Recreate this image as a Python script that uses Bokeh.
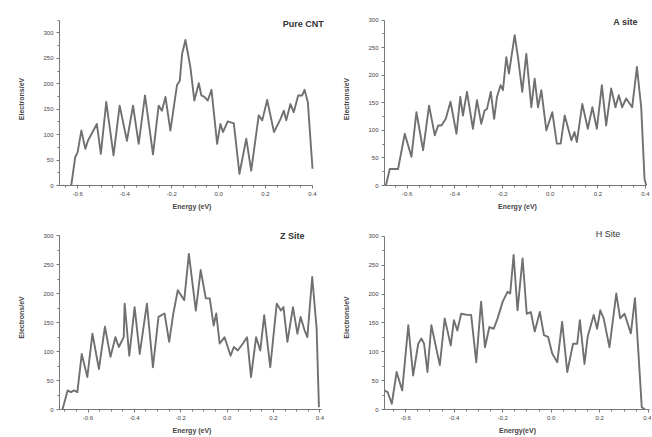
from bokeh.plotting import figure
from bokeh.layouts import gridplot
from bokeh.models import Range1d, Label, FixedTicker, PrintfTickFormatter
from bokeh.embed import file_html
from bokeh.resources import INLINE

# ---- data ----
pure_x = [-0.627, -0.610, -0.600, -0.584, -0.567, -0.556, -0.518, -0.501, -0.478, -0.447,
          -0.421, -0.390, -0.364, -0.340, -0.313, -0.279, -0.255, -0.241, -0.226, -0.205,
          -0.177, -0.165, -0.155, -0.141, -0.120, -0.103, -0.084, -0.073, -0.060, -0.046,
          -0.030, -0.006, 0.008, 0.019, 0.039, 0.065, 0.089, 0.118, 0.139, 0.171,
          0.186, 0.207, 0.236, 0.264, 0.278, 0.288, 0.306, 0.320, 0.339, 0.356,
          0.366, 0.380, 0.400]
pure_y = [0, 56, 65, 108, 72, 88, 121, 62, 164, 59,
          157, 88, 157, 82, 177, 61, 157, 147, 174, 108,
          197, 206, 259, 286, 233, 167, 201, 177, 174, 167,
          188, 82, 121, 105, 126, 122, 23, 92, 29, 138,
          128, 168, 105, 131, 147, 128, 160, 144, 177, 177,
          188, 164, 33]

a_x = [-0.689, -0.673, -0.659, -0.638, -0.610, -0.582, -0.561, -0.533, -0.508, -0.484,
       -0.470, -0.456, -0.438, -0.418, -0.393, -0.377, -0.366, -0.349, -0.324, -0.307,
       -0.289, -0.275, -0.265, -0.249, -0.235, -0.223, -0.208, -0.198, -0.184, -0.173,
       -0.149, -0.135, -0.117, -0.100, -0.079, -0.065, -0.051, -0.037, -0.016, 0.009,
       0.028, 0.044, 0.061, 0.089, 0.102, 0.112, 0.135, 0.158, 0.177, 0.196,
       0.217, 0.235, 0.256, 0.274, 0.288, 0.302, 0.319, 0.344, 0.364, 0.382,
       0.396, 0.403]
a_y = [0, 30, 30, 30, 94, 52, 133, 64, 145, 91,
       109, 109, 121, 152, 94, 161, 127, 170, 103, 155,
       112, 136, 139, 170, 121, 161, 182, 173, 233, 203,
       273, 233, 170, 239, 142, 194, 142, 173, 100, 133,
       76, 76, 127, 82, 97, 79, 148, 103, 142, 103,
       182, 109, 176, 142, 164, 142, 158, 142, 215, 142,
       12, 0]

z_x = [-0.710, -0.688, -0.674, -0.660, -0.646, -0.627, -0.603, -0.581, -0.553, -0.527,
       -0.503, -0.482, -0.467, -0.446, -0.442, -0.422, -0.399, -0.377, -0.346, -0.320,
       -0.296, -0.270, -0.250, -0.232, -0.213, -0.185, -0.165, -0.135, -0.114, -0.092,
       -0.075, -0.058, -0.047, -0.032, -0.011, 0.015, 0.029, 0.046, 0.068, 0.086,
       0.103, 0.125, 0.143, 0.160, 0.186, 0.214, 0.232, 0.243, 0.260, 0.284,
       0.303, 0.317, 0.334, 0.346, 0.367, 0.386, 0.396]
z_y = [0, 33, 30, 33, 30, 96, 56, 131, 70, 143,
       91, 125, 108, 125, 183, 93, 177, 96, 183, 73,
       160, 166, 117, 166, 206, 189, 269, 171, 241, 192,
       192, 145, 166, 114, 125, 93, 108, 102, 114, 125,
       56, 125, 102, 163, 73, 183, 171, 177, 117, 177,
       131, 160, 137, 125, 229, 140, 4]

h_x = [-0.687, -0.674, -0.657, -0.637, -0.614, -0.589, -0.569, -0.548, -0.535, -0.524,
       -0.510, -0.494, -0.459, -0.439, -0.414, -0.401, -0.387, -0.371, -0.346, -0.330,
       -0.309, -0.289, -0.273, -0.255, -0.237, -0.221, -0.200, -0.180, -0.169, -0.155,
       -0.139, -0.118, -0.101, -0.084, -0.068, -0.047, -0.030, -0.013, 0.004, 0.025,
       0.045, 0.066, 0.090, 0.107, 0.118, 0.137, 0.150, 0.175, 0.189, 0.202,
       0.216, 0.240, 0.268, 0.284, 0.302, 0.328, 0.345, 0.359, 0.373, 0.386]
h_y = [33, 30, 10, 65, 33, 146, 59, 114, 123, 114,
       65, 146, 77, 158, 111, 155, 137, 166, 164, 164,
       82, 187, 108, 143, 140, 158, 187, 204, 201, 268,
       172, 262, 166, 169, 135, 169, 129, 126, 97, 82,
       152, 65, 114, 114, 155, 79, 126, 164, 140, 172,
       158, 108, 201, 158, 166, 132, 193, 100, 4, 0]

titles = ["Pure CNT", "A site", "Z Site", "H Site"]
x_label = ["Energy (eV)", "Energy (eV)", "Energy (eV)", "Energy(eV)"]
y_label = "Electrons/eV"
y_ticks = [0, 50, 100, 150, 200, 250, 300]
x_ticks = [-0.6, -0.4, -0.2, 0.0, 0.2, 0.4]

FONT = "Liberation Sans"
LINE = "#707070"
AX = "#777777"


def make(xs, ys, title, xlab, xr, xb, yr, yb, w, h, borders, title_pos, bold=True):
    left, right, top, bottom = borders
    p = figure(width=w, height=h, output_backend="svg", toolbar_location=None,
               x_range=Range1d(*xr), y_range=Range1d(*yr),
               min_border_left=left, min_border_right=right,
               min_border_top=top, min_border_bottom=bottom)
    p.outline_line_color = None
    p.xgrid.visible = False
    p.ygrid.visible = False
    p.background_fill_color = "white"
    p.border_fill_color = "white"
    p.line(xs, ys, line_color=LINE, line_width=1.9, line_join="round")
    for ax in (p.xaxis[0], p.yaxis[0]):
        ax.axis_line_color = AX
        ax.major_tick_line_color = AX
        ax.minor_tick_line_color = AX
        ax.major_tick_out = 3
        ax.major_tick_in = 0
        ax.minor_tick_out = 2
        ax.minor_tick_in = 0
        ax.major_label_text_font = FONT
        ax.major_label_text_font_size = "6px"
        ax.major_label_text_color = "#444444"
        ax.axis_label_text_font = FONT
        ax.axis_label_text_font_size = "7px"
        ax.axis_label_text_font_style = "bold"
        ax.axis_label_text_color = "#444444"
        ax.major_label_standoff = 3
    p.xaxis.bounds = xb
    p.yaxis.bounds = yb
    p.xaxis.ticker = FixedTicker(ticks=x_ticks,
                                 minor_ticks=[round(-0.7 + 0.05 * i, 3) for i in range(23)])
    p.xaxis.formatter = PrintfTickFormatter(format="%.1f")
    p.yaxis.ticker = FixedTicker(ticks=y_ticks,
                                 minor_ticks=[25 + 50 * i for i in range(7)])
    p.xaxis.axis_label = xlab
    p.yaxis.axis_label = y_label
    p.xaxis.axis_label_standoff = 4
    p.yaxis.axis_label_standoff = 15
    lab = Label(x=title_pos[0], y=title_pos[1], text=title, text_align="right",
                text_baseline="middle", text_font=FONT, text_font_size="9px",
                text_font_style="bold" if bold else "normal", text_color="#333333")
    p.add_layout(lab)
    return p


p1 = make(pure_x, pure_y, titles[0], x_label[0],
          (-0.677, 0.451), (-0.677, 0.4), (0, 340), (0, 324),
          326, 218, (59, 2, 12, 33), (0.448, 318))
p2 = make(a_x, a_y, titles[1], x_label[1],
          (-0.695, 0.421), (-0.695, 0.405), (0, 314), (0, 300),
          325, 218, (58, 1, 12, 33), (0.368, 297))
p3 = make(z_x, z_y, titles[2], x_label[2],
          (-0.723, 0.42), (-0.723, 0.405), (0, 318), (0, 300),
          326, 218, (57, 2, 7, 27), (0.334, 300))
p4 = make(h_x, h_y, titles[3], x_label[3],
          (-0.687, 0.409), (-0.687, 0.405), (0, 319), (0, 300),
          325, 218, (56, 1, 7, 27), (0.284, 304), bold=False)

grid = gridplot([[p1, p2], [p3, p4]], toolbar_location=None)

open("out.html", "w").write(file_html(grid, INLINE))
